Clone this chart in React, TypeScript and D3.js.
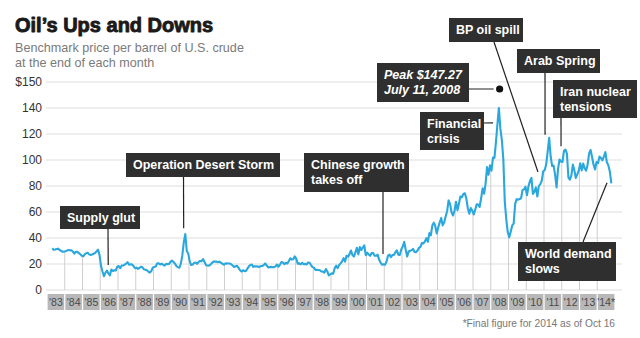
import React from "react";
import * as d3 from "d3";

// ---------- DATA ----------
const startYear = 1983;
const startMonthIndex = 3; // April 1983 (0 = January)

const prices1983to1989 = [
  32.0, 31.0, 31.2, 31.6, 31.8, 30.8, 30.2, 29.4, 29.6,
  29.8, 30.3, 30.8, 30.6, 30.5, 29.6, 28.0, 29.4, 29.3, 28.4, 27.5, 26.4,
  25.9, 27.4, 28.3, 28.6, 27.4, 27.0, 27.3, 27.9, 28.4, 29.8, 31.0, 27.0,
  18.8, 14.2, 10.6, 13.3, 15.0, 12.7, 11.2, 15.7, 14.6, 15.2, 15.0, 17.9,
  18.4, 16.8, 18.8, 18.8, 19.5, 20.3, 21.4, 19.5, 19.8, 19.6, 18.4, 16.7,
  17.2, 16.3, 16.9, 17.9, 17.5, 15.9, 15.6, 15.2, 14.2, 13.4, 14.5, 17.2,
  17.8, 18.1, 20.5, 20.6, 19.6, 20.3, 19.4, 18.8, 20.1, 19.9, 20.0, 21.8,
];
const prices1990to1999 = [
  22.6, 21.5, 20.3, 18.4, 17.6, 17.1, 20.3, 26.8, 37.0, 43.0, 30.0, 28.0,
  22.0, 19.2, 19.6, 20.9, 21.2, 20.1, 21.6, 22.3, 22.2, 23.8, 21.5, 19.1,
  18.9, 18.7, 19.5, 20.7, 21.9, 21.8, 21.9, 21.3, 21.8, 21.0, 20.3, 19.5,
  20.3, 20.5, 20.4, 20.4, 19.9, 18.8, 17.7, 18.3, 18.6, 17.0, 15.2, 14.2,
  15.2, 14.5, 14.7, 16.4, 18.2, 19.3, 19.6, 17.8, 18.3, 18.2, 18.0, 17.8,
  18.4, 18.5, 19.1, 20.4, 18.9, 17.4, 17.6, 17.8, 17.5, 17.6, 18.2, 19.6,
  18.0, 19.5, 21.5, 21.2, 19.8, 20.9, 20.4, 22.3, 24.4, 23.4, 23.7, 25.9,
  24.2, 20.3, 20.5, 19.7, 20.9, 19.8, 20.1, 19.6, 21.2, 21.0, 19.2, 17.6,
  17.2, 15.4, 15.6, 15.4, 15.2, 14.2, 14.2, 13.4, 16.1, 14.4, 11.2, 12.1,
  12.8, 12.5, 16.8, 18.7, 16.8, 19.3, 20.5, 22.1, 24.5, 21.8, 26.3, 25.6,
];
const prices2000to2007 = [
  27.6, 30.4, 26.9, 25.7, 29.0, 32.5, 27.4, 33.1, 30.8, 32.7, 34.4, 26.8,
  28.7, 27.4, 26.3, 28.5, 28.4, 26.3, 26.3, 27.2, 23.4, 21.2, 19.4, 19.8,
  19.5, 21.7, 26.3, 27.3, 25.3, 26.9, 27.0, 28.9, 30.5, 27.2, 26.9, 31.2,
  33.5, 37.0, 31.0, 25.8, 29.6, 30.2, 30.5, 31.6, 29.2, 29.1, 30.4, 32.5,
  33.1, 36.2, 35.8, 37.4, 39.9, 37.1, 43.8, 42.1, 49.6, 51.8, 49.1, 43.5,
  48.2, 52.0, 55.4, 49.7, 51.9, 56.5, 60.6, 68.9, 66.2, 59.8, 57.3, 61.0,
  67.9, 61.4, 66.6, 71.9, 71.3, 73.9, 74.4, 70.3, 62.9, 58.7, 63.1, 61.1,
  58.1, 61.8, 65.9, 65.7, 64.0, 70.7, 78.2, 74.0, 81.7, 94.5, 88.7, 96.0,
];
const prices2008to2014 = [
  91.8, 101.8, 101.6, 113.5, 127.4, 140.0, 124.1, 115.5, 100.6, 67.8, 54.4, 44.6,
  40.5, 44.8, 49.7, 51.1, 66.3, 69.9, 69.5, 70.0, 70.6, 77.0, 77.3, 79.4,
  72.9, 79.7, 83.8, 86.2, 73.9, 75.6, 78.9, 71.9, 79.9, 81.4, 84.1, 91.4,
  92.2, 96.9, 106.7, 117.0, 102.7, 95.4, 95.7, 88.8, 78.9, 93.2, 100.4, 98.8,
  98.5, 107.1, 108.0, 104.9, 86.5, 84.9, 88.1, 96.5, 92.2, 86.2, 88.9, 91.8,
  97.5, 92.0, 97.2, 93.5, 91.9, 96.6, 105.0, 107.7, 102.3, 96.4, 92.7, 98.4,
  97.5, 102.6, 101.6, 99.7, 102.7, 106.0, 98.2, 96.0, 91.2, 82.0,
];

const yearLabels = [
  "'83", "'84", "'85", "'86", "'87", "'88", "'89", "'90", "'91", "'92", "'93",
  "'94", "'95", "'96", "'97", "'98", "'99", "'00", "'01", "'02", "'03", "'04",
  "'05", "'06", "'07", "'08", "'09", "'10", "'11", "'12", "'13", "'14*",
];
const yTickValues = [0, 20, 40, 60, 80, 100, 120, 140, 160];
const yTickLabels = ["0", "20", "40", "60", "80", "100", "120", "140", "$150"];

const titleText = "Oil’s Ups and Downs";
const subtitleLines = ["Benchmark price per barrel of U.S. crude", "at the end of each month"];
const footnoteText = "*Final figure for 2014 as of Oct 16";

// annotations: text + anchor in data units
const annotationTexts = [
  ["Supply glut"],
  ["Operation Desert Storm"],
  ["Chinese growth", "takes off"],
  ["Financial", "crisis"],
  ["Peak $147.27", "July 11, 2008"],
  ["BP oil spill"],
  ["Arab Spring"],
  ["Iran nuclear", "tensions"],
  ["World demand", "slows"],
];
const annotationAnchors = [
  { year: 1986.45, value: 19.2 },
  { year: 1990.7, value: 47.5 },
  { year: 2001.93, value: 27.7 },
  { year: 2008.13, value: 128.5 },
  { year: 2008.5, value: 154.6 },
  { year: 2010.66, value: 90.8 },
  { year: 2011.06, value: 119.5 },
  { year: 2011.96, value: 110.5 },
  { year: 2014.55, value: 82.5 },
];

// ---------- LAYOUT ----------
const W = 640;
const H = 338;
const plotLeft = 46;
const plotRight = 622;

type Box = { x: number; y: number; w: number; h: number; lx: number; ly: number; kind: string; italic?: boolean };
const annotationBoxes: Box[] = [
  { x: 60, y: 206, w: 80, h: 23, lx: 108, ly: 229, kind: "v" },
  { x: 126, y: 153, w: 154, h: 24, lx: 183.5, ly: 177, kind: "v" },
  { x: 304, y: 153, w: 105, h: 39, lx: 383, ly: 192, kind: "v" },
  { x: 420, y: 112, w: 64, h: 38, lx: 484, ly: 123, kind: "h" },
  { x: 377, y: 63, w: 92, h: 39, lx: 469, ly: 89, kind: "dot", italic: true },
  { x: 449, y: 18, w: 74, h: 24, lx: 494, ly: 42, kind: "d" },
  { x: 517, y: 49, w: 83, h: 24, lx: 545, ly: 73, kind: "v" },
  { x: 553, y: 80, w: 84, h: 38, lx: 561, ly: 118, kind: "v" },
  { x: 518, y: 242, w: 98, h: 39, lx: 583, ly: 242, kind: "d" },
];

export default function App() {
  const prices = [...prices1983to1989, ...prices1990to1999, ...prices2000to2007, ...prices2008to2014];
  const data = prices.map((v, i) => ({
    t: startYear + (startMonthIndex + i + 0.5) / 12,
    v,
  }));

  const x = d3.scaleLinear().domain([1983, 2015]).range([47, 615]);
  const y = d3.scaleLinear().domain([0, 160]).range([290, 82]);

  const line = d3
    .line<{ t: number; v: number }>()
    .x((d) => x(d.t))
    .y((d) => y(d.v))
    .curve(d3.curveLinear);

  const bis = d3.bisector((d: { t: number }) => d.t).left;
  const valueAt = (t: number) => {
    const i = bis(data, t);
    if (i <= 0) return data[0].v;
    if (i >= data.length) return data[data.length - 1].v;
    const a = data[i - 1], b = data[i];
    return a.v + ((b.v - a.v) * (t - a.t)) / (b.t - a.t);
  };

  const years = d3.range(1983, 2015);
  const dropYears = d3.range(1984, 2015);

  const font = "'Liberation Sans', Arial, Helvetica, sans-serif";

  return (
    <svg
      width={W}
      height={H}
      style={{ position: "absolute", left: 0, top: 0, background: "#fff" }}
      fontFamily={font}
    >
      <rect x={0} y={0} width={W} height={H} fill="#fff" />
      {/* title */}
      <text
        x={15}
        y={32}
        fontFamily="'Liberation Sans', Arial, sans-serif"
        fontWeight={700}
        fontSize={20}
        fill="#1a1a1a"
        stroke="#1a1a1a"
        strokeWidth={0.9}
        strokeLinejoin="round"
      >
        {titleText}
      </text>
      {subtitleLines.map((s, i) => (
        <text key={i} x={15} y={52 + i * 14.5} fontSize={12.6} fill="#7a7a7a">
          {s}
        </text>
      ))}

      {/* horizontal gridlines */}
      {yTickValues.map((v, i) => (
        <g key={v}>
          <line x1={plotLeft} x2={plotRight} y1={y(v)} y2={y(v)} stroke="#e8e8e8" strokeWidth={1.3} />
          <text x={42} y={y(v)} dy="0.36em" textAnchor="end" fontSize={12} fill="#333">
            {yTickLabels[i]}
          </text>
        </g>
      ))}

      {/* drop lines at year starts */}
      {dropYears.map((yr) => (
        <line key={yr} x1={x(yr)} x2={x(yr)} y1={y(0)} y2={y(valueAt(yr))} stroke="#cfcfcf" strokeWidth={1} />
      ))}

      {/* year boxes */}
      {years.map((yr, i) => (
        <g key={yr}>
          <rect x={x(yr) + 0.6} y={294} width={x(yr + 1) - x(yr) - 1.2} height={16} fill="#b8b8b8" />
          <text
            x={(x(yr) + x(yr + 1)) / 2}
            y={306}
            textAnchor="middle"
            fontSize={10.5}
            fontFamily="'Liberation Sans Narrow', 'Arial Narrow', 'Liberation Sans', sans-serif"
            fill="#4a4a4a"
          >
            {yearLabels[i]}
          </text>
        </g>
      ))}

      {/* price line */}
      <path d={line(data) || ""} fill="none" stroke="#2aa7dc" strokeWidth={2.1} strokeLinejoin="round" />

      {/* annotations */}
      {annotationBoxes.map((b, i) => {
        const a = annotationAnchors[i];
        const ax = x(a.year);
        const ay = y(a.value);
        const lines = annotationTexts[i];
        let leader: React.ReactNode = null;
        if (b.kind === "dot") {
          leader = (
            <g>
              <line x1={b.lx} y1={b.ly} x2={ax - 6} y2={ay} stroke="#222" strokeWidth={1.2} />
              <circle cx={ax} cy={ay} r={3.6} fill="#111" />
            </g>
          );
        } else {
          leader = <line x1={b.lx} y1={b.ly} x2={ax} y2={ay} stroke="#222" strokeWidth={1.2} />;
        }
        return (
          <g key={i}>
            {leader}
            <rect x={b.x} y={b.y} width={b.w} height={b.h} fill="#2f2f2f" />
            {lines.map((t, j) => (
              <text
                key={j}
                x={b.x + 7}
                y={b.y + 16 + j * 14.5}
                fontSize={12.5}
                fontWeight={700}
                fontStyle={b.italic ? "italic" : "normal"}
                fill="#fff"
              >
                {t}
              </text>
            ))}
          </g>
        );
      })}

      {/* footnote */}
      <text x={615} y={327} textAnchor="end" fontSize={10.2} fill="#777">
        {footnoteText}
      </text>
    </svg>
  );
}
